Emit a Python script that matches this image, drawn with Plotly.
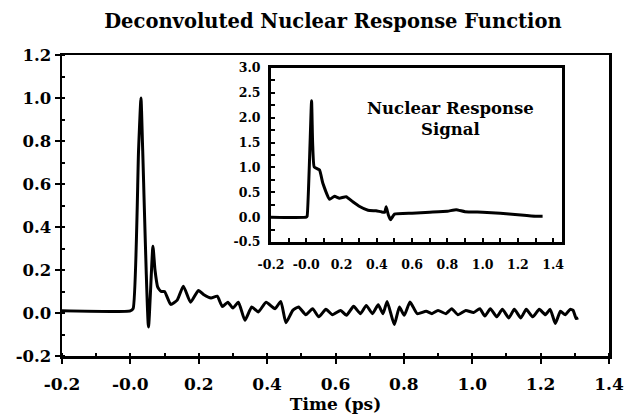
import plotly.graph_objects as go

# Main deconvoluted response
main_t = [-0.2, 0.0, 0.008, 0.024, 0.031, 0.036, 0.053, 0.066, 0.072, 0.08, 0.09, 0.1, 0.118, 0.137,
          0.155, 0.176, 0.199, 0.215, 0.236, 0.254, 0.269, 0.285, 0.3, 0.316, 0.335, 0.355, 0.374, 0.397,
          0.423, 0.44, 0.455, 0.475, 0.492, 0.513, 0.533, 0.551, 0.572, 0.591, 0.615, 0.632, 0.653, 0.673,
          0.69, 0.708, 0.725, 0.739, 0.751, 0.772, 0.787, 0.801, 0.818, 0.839, 0.865, 0.882, 0.9, 0.923,
          0.94, 0.958, 0.981, 1.004, 1.022, 1.037, 1.053, 1.072, 1.088, 1.107, 1.123, 1.142, 1.158, 1.177,
          1.196, 1.214, 1.228, 1.243, 1.258, 1.272, 1.286, 1.295, 1.304, 1.31]
main_v = [0.01, 0.01, 0.02, 0.76, 1.0, 0.76, -0.065, 0.31, 0.2, 0.12, 0.1, 0.1, 0.04, 0.06,
          0.125, 0.05, 0.105, 0.085, 0.07, 0.078, 0.03, 0.05, 0.023, 0.05, -0.034, 0.028, 0.005, 0.05,
          0.02, 0.054, -0.045, 0.012, 0.028, -0.008, 0.02, -0.018, 0.017, -0.008, 0.012, -0.011, 0.031, -0.003,
          0.035, -0.003, 0.038, -0.003, 0.054, -0.054, 0.028, -0.011, 0.051, -0.003, 0.008, -0.003, 0.012, -0.003,
          0.02, -0.008, 0.012, 0.002, 0.02, -0.014, 0.02, -0.018, 0.017, -0.023, 0.017, -0.023, 0.017, -0.018,
          0.017, -0.008, 0.017, -0.049, 0.008, -0.008, 0.017, 0.012, -0.026, -0.023]

# Inset: nuclear response signal
ins_t = [-0.2, 0.0, 0.005, 0.03, 0.036, 0.045, 0.075, 0.094, 0.132, 0.16, 0.188, 0.226, 0.264, 0.3,
         0.35, 0.396, 0.425, 0.445, 0.453, 0.465, 0.478, 0.5, 0.6, 0.7, 0.8, 0.85, 0.9, 1.0, 1.1, 1.2,
         1.3, 1.34]
ins_v = [0.0, 0.0, 0.02, 2.34, 1.5, 1.01, 0.95, 0.68, 0.36, 0.42, 0.38, 0.41, 0.31, 0.22,
         0.14, 0.127, 0.107, 0.1, 0.21, 0.05, -0.05, 0.06, 0.08, 0.1, 0.12, 0.15, 0.11, 0.1, 0.08, 0.05,
         0.02, 0.02]

main_x_ticks = [-0.2, 0.0, 0.2, 0.4, 0.6, 0.8, 1.0, 1.2, 1.4]
main_x_text = ["-0.2", "-0.0", "0.2", "0.4", "0.6", "0.8", "1.0", "1.2", "1.4"]
main_y_ticks = [-0.2, 0.0, 0.2, 0.4, 0.6, 0.8, 1.0, 1.2]
main_y_text = ["-0.2", "0.0", "0.2", "0.4", "0.6", "0.8", "1.0", "1.2"]
ins_y_ticks = [-0.5, 0.0, 0.5, 1.0, 1.5, 2.0, 2.5, 3.0]
ins_y_text = ["-0.5", "0.0", "0.5", "1.0", "1.5", "2.0", "2.5", "3.0"]

FONT = "DejaVu Serif"


def tf(size):
    return dict(family=FONT, size=size, color="black", weight="bold")


fig = go.Figure()
fig.add_trace(go.Scatter(x=main_t, y=main_v, mode="lines",
                         line=dict(color="black", width=3, shape="spline", smoothing=0.5),
                         xaxis="x", yaxis="y", showlegend=False))
fig.add_trace(go.Scatter(x=ins_t, y=ins_v, mode="lines",
                         line=dict(color="black", width=3, shape="spline", smoothing=0.4),
                         xaxis="x2", yaxis="y2", showlegend=False))

fig.update_layout(
    width=627, height=420,
    margin=dict(l=62, r=18, t=55, b=64),
    paper_bgcolor="white", plot_bgcolor="white",
    font=dict(family=FONT, color="black"),
    title=dict(text="Deconvoluted Nuclear Response Function",
               x=0.531, xanchor="center", y=1 - 21 / 420, yanchor="middle",
               font=tf(19.5)),
    xaxis=dict(domain=[0, 1], range=[-0.2, 1.4], tickvals=main_x_ticks, ticktext=main_x_text,
               showline=True, linecolor="black", linewidth=2.5, mirror=True,
               ticks="outside", ticklen=5, tickwidth=2, tickcolor="black", ticklabelstandoff=6,
               minor=dict(dtick=0.1, tick0=0, ticks="inside", ticklen=3, tickwidth=2, tickcolor="black"),
               showgrid=False, zeroline=False, automargin=False,
               tickfont=tf(17),
               title=dict(text="Time (ps)", standoff=0, font=tf(17))),
    yaxis=dict(domain=[0, 1], range=[-0.2, 1.2], tickvals=main_y_ticks, ticktext=main_y_text,
               showline=True, linecolor="black", linewidth=2.5, mirror=True,
               ticks="outside", ticklen=5, tickwidth=2, tickcolor="black",
               minor=dict(dtick=0.1, tick0=0, ticks="inside", ticklen=3, tickwidth=2, tickcolor="black"),
               showgrid=False, zeroline=False, automargin=False,
               tickfont=tf(16.5)),
    xaxis2=dict(domain=[(271 - 62) / 547, (562 - 62) / 547], anchor="y2", range=[-0.2, 1.45],
                tickvals=main_x_ticks, ticktext=main_x_text,
                showline=True, linecolor="black", linewidth=3, mirror=True,
                ticks="inside", ticklen=4, tickwidth=2, tickcolor="black", ticklabelstandoff=9,
                minor=dict(dtick=0.1, tick0=0, ticks="inside", ticklen=4, tickwidth=2, tickcolor="black"),
                showgrid=False, zeroline=False, automargin=False,
                tickfont=tf(12.5)),
    yaxis2=dict(domain=[(356 - 242) / 301, (356 - 68) / 301], anchor="x2", range=[-0.5, 3.0],
                tickvals=ins_y_ticks, ticktext=ins_y_text,
                showline=True, linecolor="black", linewidth=3, mirror=True,
                ticks="inside", ticklen=4, tickwidth=2, tickcolor="black", ticklabelstandoff=5,
                minor=dict(dtick=0.25, tick0=0, ticks="inside", ticklen=4, tickwidth=2, tickcolor="black"),
                showgrid=False, zeroline=False, automargin=False,
                tickfont=tf(12.5)),
)

fig.add_annotation(text="Nuclear Response<br>Signal", xref="x2", yref="y2",
                   x=0.815, y=1.97, xanchor="center", yanchor="middle", showarrow=False,
                   font=tf(16.5), align="center")

fig.write_html("out.html",
               config={"displayModeBar": False, "staticPlot": True},
               post_script="document.body.style.margin='0';document.body.style.padding='0';")
